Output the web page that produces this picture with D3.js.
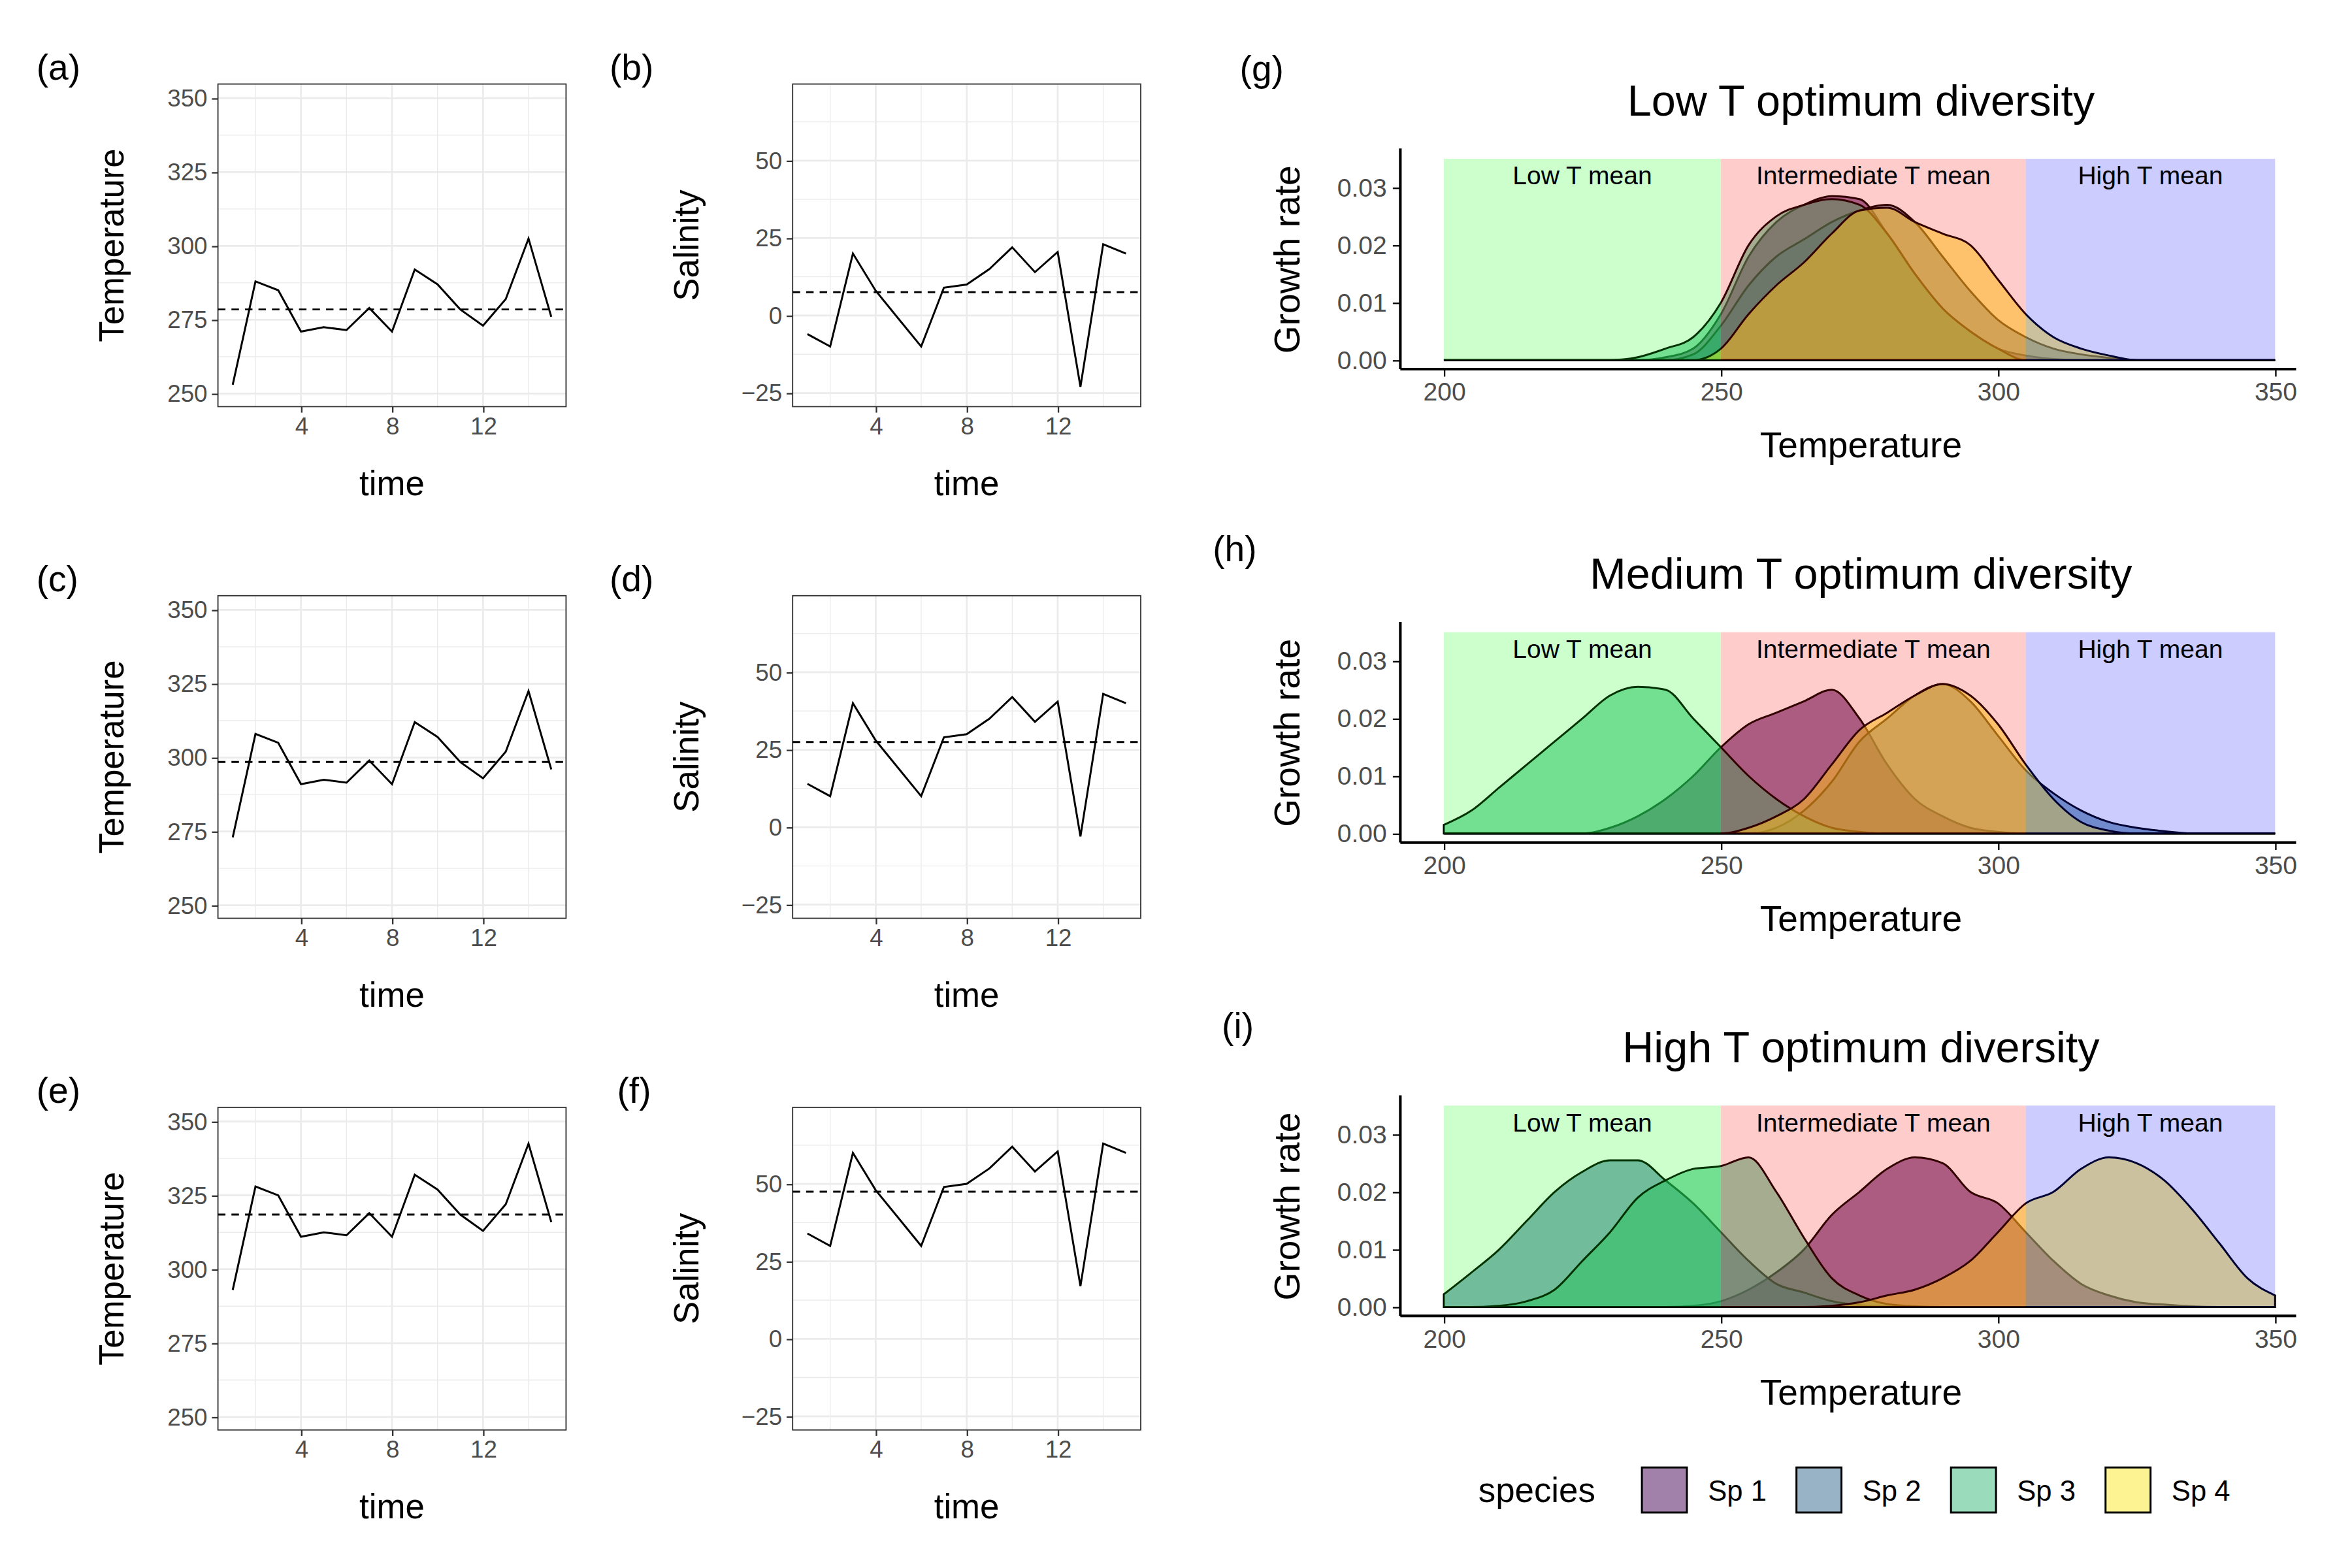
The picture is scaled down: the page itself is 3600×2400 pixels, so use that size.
<!DOCTYPE html><html><head><meta charset="utf-8">
<script src="https://cdn.jsdelivr.net/npm/d3@7"></script>
<style>body{margin:0;background:#fff;overflow:hidden}text{font-family:"Liberation Sans",Arial,sans-serif}</style></head><body>
<svg id="c" width="3600" height="2400" viewBox="0 0 1567 1045" style="display:block"></svg>
<script>
const time=[1,2,3,4,5,6,7,8,9,10,11,12,13,14,15];
const tempA=[253,288,285,271,272.5,271.5,279,271,292,287,278.5,273,282,302.5,276];
const tempC=[273,308,305,291,292.5,291.5,299,291,312,307,298.5,293,302,322.5,296];
const tempE=[293,328,325,311,312.5,311.5,319,311,332,327,318.5,313,322,342.5,316];
const salB=[-6,-10,20,8,-1,-10,9,10,15,22,14,20.5,-23,23,20];
const salD=[14,10,40,28,19,10,29,30,35,42,34,40.5,-3,43,40];
const salF=[34,30,60,48,39,30,49,50,55,62,54,60.5,17,63,60];
const tempMeans=[278.5,298.5,318.5];
const salMeans=[7.5,27.5,47.5];
const tempTicks=[250,275,300,325,350];
const salTicks=[-25,0,25,50];
const timeTicks=[4,8,12];
const T=[200,205,210,215,220,225,230,235,240,245,250,255,260,265,270,275,280,285,290,295,300,305,310,315,320,325,330,335,340,345,350];
const gSp1=[0,0,0,0,0,0,0,0,0.0005,0.002,0.008,0.018,0.024,0.027,0.0285,0.028,0.022,0.015,0.009,0.005,0.002,0.0008,0.0002,0,0,0,0,0,0,0,0];
const gSp2=[0,0,0,0,0,0,0,0,0,0.001,0.006,0.013,0.018,0.021,0.024,0.026,0.027,0.024,0.018,0.012,0.007,0.004,0.002,0.001,0.0004,0,0,0,0,0,0];
const gSp3=[0,0,0,0,0,0,0,0.0005,0.002,0.004,0.01,0.02,0.025,0.027,0.028,0.027,0.022,0.015,0.009,0.005,0.002,0,0,0,0,0,0,0,0,0,0];
const gSp4=[0,0,0,0,0,0,0,0,0,0,0.002,0.008,0.013,0.017,0.022,0.026,0.0265,0.024,0.022,0.02,0.014,0.008,0.004,0.002,0.0008,0,0,0,0,0,0];
const hSp1=[0,0,0,0,0,0,0.001,0.003,0.006,0.01,0.015,0.019,0.021,0.023,0.025,0.02,0.012,0.006,0.003,0.001,0.0003,0,0,0,0,0,0,0,0,0,0];
const hSp2=[0,0,0,0,0,0,0,0,0,0,0,0,0.001,0.004,0.009,0.016,0.02,0.024,0.026,0.023,0.017,0.011,0.007,0.004,0.002,0.001,0.0004,0,0,0,0];
const hSp3=[0.0015,0.004,0.008,0.012,0.016,0.02,0.024,0.0255,0.025,0.02,0.015,0.01,0.006,0.003,0.001,0.0003,0,0,0,0,0,0,0,0,0,0,0,0,0,0,0];
const hSp4=[0,0,0,0,0,0,0,0,0,0,0,0.001,0.003,0.006,0.012,0.018,0.021,0.024,0.026,0.024,0.019,0.012,0.006,0.002,0.0005,0,0,0,0,0,0];
const iSp1=[0,0,0,0,0,0,0,0,0,0.0002,0.001,0.003,0.006,0.01,0.016,0.02,0.024,0.026,0.025,0.02,0.018,0.013,0.008,0.004,0.002,0.0008,0.0004,0.0001,0,0,0];
const iSp2=[0.0022,0.006,0.01,0.015,0.02,0.0235,0.0255,0.0255,0.022,0.018,0.013,0.008,0.004,0.0025,0.001,0.0003,0.0001,0,0,0,0,0,0,0,0,0,0,0,0,0,0];
const iSp3=[0,0,0.0002,0.001,0.003,0.008,0.013,0.019,0.022,0.024,0.0245,0.026,0.02,0.012,0.005,0.002,0.0005,0.0001,0,0,0,0,0,0,0,0,0,0,0,0,0];
const iSp4=[0,0,0,0,0,0,0,0,0,0,0,0,0,0,0.0002,0.0008,0.002,0.003,0.005,0.008,0.013,0.018,0.02,0.024,0.026,0.025,0.022,0.017,0.011,0.005,0.002];
const species=["Sp 1","Sp 2","Sp 3","Sp 4"];
const spColors=["#440154","#31688E","#35B779","#FDE725"];
const titles=["Low T optimum diversity","Medium T optimum diversity","High T optimum diversity"];
const zones=[{a:200,b:250,c:"#00ff00",l:"Low T mean"},{a:250,b:305,c:"#ff0000",l:"Intermediate T mean"},{a:305,b:350,c:"#0000ff",l:"High T mean"}];
const growthTicks=[0,0.01,0.02,0.03];
const tempAxisTicks=[200,250,300,350];

const svg=d3.select("#c");
const grey="#4d4d4d";
function tsPanel(x0,y0,vals,mean,dom,ticks,ylab,tag,tagx){
  const w=232,h=215;
  const g=svg.append("g");
  const x=d3.scaleLinear().domain([0.35,15.65]).range([x0,x0+w]);
  const y=d3.scaleLinear().domain(dom).range([y0+h,y0]);
  const step=ticks[1]-ticks[0];
  const minorY=[ticks[0]-step/2].concat(ticks.map(t=>t+step/2)).filter(v=>v>dom[0]&&v<dom[1]);
  [2,6,10,14].forEach(t=>g.append("line").attr("x1",x(t)).attr("x2",x(t)).attr("y1",y0).attr("y2",y0+h).attr("stroke","#ebebeb").attr("stroke-width",0.6));
  minorY.forEach(t=>g.append("line").attr("y1",y(t)).attr("y2",y(t)).attr("x1",x0).attr("x2",x0+w).attr("stroke","#ebebeb").attr("stroke-width",0.6));
  timeTicks.forEach(t=>g.append("line").attr("x1",x(t)).attr("x2",x(t)).attr("y1",y0).attr("y2",y0+h).attr("stroke","#ebebeb").attr("stroke-width",1.2));
  ticks.forEach(t=>g.append("line").attr("y1",y(t)).attr("y2",y(t)).attr("x1",x0).attr("x2",x0+w).attr("stroke","#ebebeb").attr("stroke-width",1.2));
  g.append("rect").attr("x",x0).attr("y",y0).attr("width",w).attr("height",h).attr("fill","none").attr("stroke","#333").attr("stroke-width",0.8);
  const st=a=>{a.select(".domain").remove();a.selectAll("line").attr("stroke","#333");a.selectAll("text").attr("font-size",16).attr("fill",grey).attr("font-family","Liberation Sans")};
  g.append("g").attr("transform",`translate(0,${y0+h})`).call(d3.axisBottom(x).tickValues(timeTicks).tickSize(4).tickPadding(3)).call(st);
  g.append("g").attr("transform",`translate(${x0},0)`).call(d3.axisLeft(y).tickValues(ticks).tickSize(4).tickPadding(3)).call(st);
  g.append("line").attr("x1",x0).attr("x2",x0+w).attr("y1",y(mean)).attr("y2",y(mean)).attr("stroke","#000").attr("stroke-width",1.3).attr("stroke-dasharray","5,4");
  g.append("path").datum(vals).attr("fill","none").attr("stroke","#000").attr("stroke-width",1.3).attr("d",d3.line().x((d,i)=>x(time[i])).y(d=>y(d)));
  g.append("text").attr("x",x0+w/2).attr("y",y0+h+59).attr("text-anchor","middle").attr("font-size",23).text("time");
  g.append("text").attr("transform",`translate(${x0-63},${y0+h/2}) rotate(-90)`).attr("text-anchor","middle").attr("font-size",23).text(ylab);
  g.append("text").attr("x",tagx).attr("y",y0-3).attr("font-size",24).text(tag);
}
const rows=[56,397,738];
tsPanel(145,rows[0],tempA,tempMeans[0],[245.6,354.8],tempTicks,"Temperature","(a)",24);
tsPanel(145,rows[1],tempC,tempMeans[1],[245.6,354.8],tempTicks,"Temperature","(c)",24);
tsPanel(145,rows[2],tempE,tempMeans[2],[245.6,354.8],tempTicks,"Temperature","(e)",24);
tsPanel(528,rows[0],salB,salMeans[0],[-29.4,74.7],salTicks,"Salinity","(b)",406);
tsPanel(528,rows[1],salD,salMeans[1],[-29.4,74.7],salTicks,"Salinity","(d)",406);
tsPanel(528,rows[2],salF,salMeans[2],[-29.4,74.7],salTicks,"Salinity","(f)",411);

const dens=[[gSp1,gSp2,gSp3,gSp4],[hSp1,hSp2,hSp3,hSp4],[iSp1,iSp2,iSp3,iSp4]];
const tags=[["(g)",826,45],["(h)",808,365],["(i)",814,683]];
[0,1,2].forEach(k=>{
  const off=k*315.5;
  const g=svg.append("g");
  const x=d3.scaleLinear().domain([200,350]).range([962,1516]);
  const y=d3.scaleLinear().domain([0,0.03]).range([240+off,125+off]);
  dens[k].forEach((vals,s)=>{
    g.append("path").datum(vals).attr("fill",spColors[s]).attr("fill-opacity",0.55).attr("stroke","#000").attr("stroke-width",1.3)
     .attr("d",d3.area().curve(d3.curveMonotoneX).x((d,i)=>x(T[i])).y0(y(0)).y1(d=>y(d)));
  });
  zones.forEach(z=>{
    g.append("rect").attr("x",x(z.a)).attr("width",x(z.b)-x(z.a)).attr("y",y(0.035)).attr("height",y(0)-y(0.035)).attr("fill",z.c).attr("fill-opacity",0.2);
  });
  zones.forEach(z=>g.append("text").attr("x",x((z.a+z.b)/2)).attr("y",123+off).attr("text-anchor","middle").attr("font-size",17).text(z.l));
  const ax0=933, ay=246+off;
  const st=a=>{a.select(".domain").remove();a.selectAll("line").attr("stroke","#000");a.selectAll("text").attr("font-size",17).attr("fill",grey).attr("font-family","Liberation Sans")};
  g.append("g").attr("transform",`translate(0,${ay})`).call(d3.axisBottom(x).tickValues(tempAxisTicks).tickSize(5).tickPadding(4)).call(st);
  g.append("g").attr("transform",`translate(${ax0},0)`).call(d3.axisLeft(y).tickValues(growthTicks).tickFormat(d3.format(".2f")).tickSize(5).tickPadding(4)).call(st);
  g.append("line").attr("x1",ax0).attr("x2",1530).attr("y1",ay).attr("y2",ay).attr("stroke","#000").attr("stroke-width",1.8);
  g.append("line").attr("x1",ax0).attr("x2",ax0).attr("y1",99+off).attr("y2",ay).attr("stroke","#000").attr("stroke-width",1.8);
  g.append("text").attr("x",1240).attr("y",305+off).attr("text-anchor","middle").attr("font-size",24).text("Temperature");
  g.append("text").attr("transform",`translate(866,${173+off}) rotate(-90)`).attr("text-anchor","middle").attr("font-size",24).text("Growth rate");
  g.append("text").attr("x",1240).attr("y",77+off).attr("text-anchor","middle").attr("font-size",29).text(titles[k]);
  g.append("text").attr("x",tags[k][1]).attr("y",tags[k][2]+9).attr("font-size",24).text(tags[k][0]);
});
const lg=svg.append("g");
lg.append("text").attr("x",985).attr("y",1001).attr("font-size",23).text("species");
species.forEach((s,i)=>{
  const bx=1094+i*103;
  lg.append("rect").attr("x",bx).attr("y",978).attr("width",30).attr("height",30).attr("fill",spColors[i]).attr("fill-opacity",0.5).attr("stroke","#000").attr("stroke-width",1.3);
  lg.append("text").attr("x",bx+44).attr("y",1000).attr("font-size",19).text(s);
});
</script></body></html>
